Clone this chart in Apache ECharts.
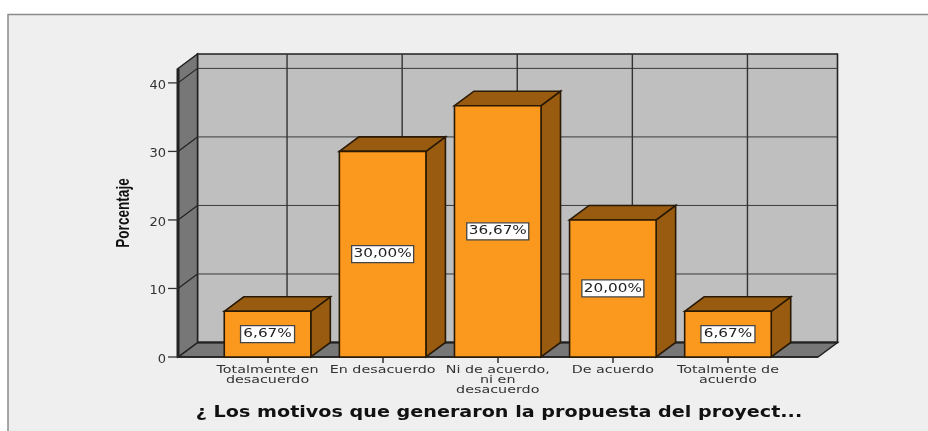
<!DOCTYPE html>
<html><head><meta charset="utf-8">
<style>html,body{margin:0;padding:0;background:#fff}#c{width:928px;height:431px;filter:blur(0.35px)}</style>
<script src="https://cdn.jsdelivr.net/npm/echarts@6/dist/echarts.min.js"></script>
</head><body><div id="c"></div>
<script>
const categories = ['Totalmente en\ndesacuerdo','En desacuerdo','Ni de acuerdo,\nni en\ndesacuerdo','De acuerdo','Totalmente de\nacuerdo'];
const percentages = [6.67, 30.00, 36.67, 20.00, 6.67];
const barLabels = ['6,67%','30,00%','36,67%','20,00%','6,67%'];
const yTicks = [0, 10, 20, 30, 40];
const yAxisTitle = 'Porcentaje';
const xAxisTitle = '¿ Los motivos que generaron la propuesta del proyect...';

const DX = 19.5, DY = 14.5, BAR_RATIO = 0.752, YMAX = 42.1;
const INK = '#222', TXT = '#333';
const FRONT = '#fb981e', DARK = '#985b10', WALL = '#bfbfbf', SHADE = '#777777';
const chart = echarts.init(document.getElementById('c'), null, {renderer:'canvas'});

function poly(pts, fill, stroke, lw){
  return {type:'polygon', shape:{points:pts}, style:{fill:fill, stroke:stroke||INK, lineWidth:lw||1.5, lineJoin:'miter'}};
}
function line(a,b,w,c){
  return {type:'line', shape:{x1:a[0],y1:a[1],x2:b[0],y2:b[1]}, style:{stroke:c||INK, lineWidth:w||1.3}};
}
function renderWalls(params, api){
  const cs = params.coordSys;
  const y0 = api.coord([0,0])[1], yTop = api.coord([0,YMAX])[1];
  const xL = cs.x - 32, xR = xL + 640;
  const ch = [];
  ch.push(poly([[xL+DX,yTop-DY],[xR+DX,yTop-DY],[xR+DX,y0-DY],[xL+DX,y0-DY]], WALL, INK, 1.6));
  ch.push(poly([[xL,y0],[xL+DX,y0-DY],[xR+DX,y0-DY],[xR,y0]], SHADE, INK, 1.5));
  ch.push(poly([[xL,yTop],[xL+DX,yTop-DY],[xL+DX,y0-DY],[xL,y0]], SHADE, INK, 1.5));
  ch.push(line([xL,yTop],[xL,y0],3));
  yTicks.forEach(v=>{
    const y = api.coord([0,v])[1];
    ch.push(line([xL-10,y],[xL,y],1.3,'#333'));
    if(v===0) return;
    ch.push(line([xL+DX,y-DY],[xR+DX,y-DY],1,'#3a3a3a'));
    ch.push(line([xL,y],[xL+DX,y-DY],1.2));
  });
  categories.forEach((c,i)=>{
    const x = api.coord([i,0])[0]+DX;
    ch.push(line([x,yTop-DY],[x,y0-DY],1.4,'#333'));
  });
  ch.push(line([xL,y0],[xR,y0],1.6));
  ch.push(line([xL+DX,y0-DY],[xR+DX,y0-DY],2.2));
  return {type:'group', children:ch};
}
function renderBar(params, api){
  const i = api.value(0), v = api.value(1);
  const p = api.coord([i,v]), b = api.coord([i,0]);
  const w = api.size([1,0])[0]*BAR_RATIO;
  const l = p[0]-w/2, r = p[0]+w/2, t = p[1], bt = b[1];
  const midY = (t+bt)/2;
  const label = barLabels[params.dataIndex];
  const boxW = 14 + 8*label.length;
  return {type:'group', children:[
    poly([[r,t],[r+DX,t-DY],[r+DX,bt-DY],[r,bt]], DARK, '#2a1a05', 1.6),
    poly([[l,t],[l+DX,t-DY],[r+DX,t-DY],[r,t]], DARK, '#2a1a05', 1.6),
    poly([[l,t],[r,t],[r,bt],[l,bt]], FRONT, '#2a1a05', 1.6),
    {type:'rect', shape:{x:p[0]-boxW/2,y:midY-8.5,width:boxW,height:17}, style:{fill:'#fff',stroke:'#444',lineWidth:1.3}},
    {type:'text', x:p[0], y:midY, scaleX:1.27, style:{text:label, font:'12px "DejaVu Sans"', fill:'#222', textAlign:'center', textVerticalAlign:'middle'}}
  ]};
}
function renderCategoryLabel(params, api){
  const i = api.value(0);
  const p = api.coord([i,0]);
  return {type:'text', x:p[0], y:p[1]+8, scaleX:1.3, style:{text:categories[i], font:'11px "DejaVu Sans"', lineHeight:10, fill:TXT, textAlign:'center', textVerticalAlign:'top'}};
}
chart.setOption({
  animation:false,
  backgroundColor:'#ffffff',
  graphic:[
    {type:'rect', z:-10, shape:{x:8,y:14.5,width:940,height:440}, style:{fill:'#efefef',stroke:'#8a8a8a',lineWidth:1.5}},
    {type:'text', z:10, x:499, y:413, scaleX:1.368, scaleY:1.08, style:{text:xAxisTitle, font:'bold 14px "DejaVu Sans"', fill:'#111', textAlign:'center', textVerticalAlign:'middle'}},
    {type:'text', z:10, x:124, y:213, rotation:Math.PI/2, scaleX:0.8, scaleY:1.1, style:{text:yAxisTitle, font:'bold 17px "Liberation Sans"', fill:'#111', textAlign:'center', textVerticalAlign:'middle'}}
  ],
  grid:{left:210, top:68.5, width:575.5, height:288.5},
  xAxis:{type:'category', data:categories, z:1,
    axisLine:{show:false}, axisLabel:{show:false},
    axisTick:{show:true, alignWithLabel:true, length:6, lineStyle:{color:'#333',width:1.5}},
    splitLine:{show:false}},
  yAxis:{type:'value', min:0, max:YMAX, offset:32,
    axisLine:{show:false},
    axisTick:{show:false},
    axisLabel:{margin:12, customValues:yTicks, fontFamily:'"DejaVu Sans"', fontSize:13, color:TXT, verticalAlign:'top', lineHeight:5},
    splitLine:{show:false}},
  series:[
    {type:'custom', name:'walls', z:1, silent:true, clip:false, renderItem:renderWalls, data:[[0,0]]},
    {type:'custom', name:'Porcentaje', z:3, clip:false, renderItem:renderBar, data:percentages.map((v,i)=>[i,v])},
    {type:'custom', name:'labels', z:4, silent:true, clip:false, renderItem:renderCategoryLabel, data:categories.map((c,i)=>[i,0])}
  ]
});
</script></body></html>
